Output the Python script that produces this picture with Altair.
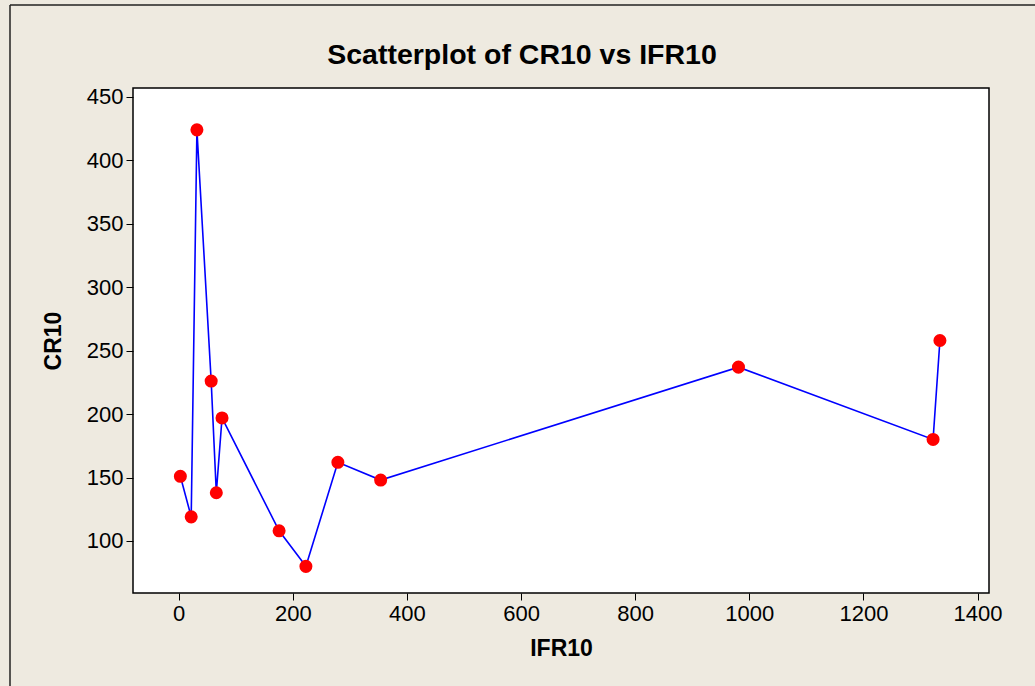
import altair as alt
import pandas as pd

# IFR10 / CR10 observations, in order of increasing IFR10
ifr10 = [3, 22, 32, 57, 66, 76, 176, 223, 279, 354, 981, 1322, 1334]
cr10 = [151, 119, 424, 226, 138, 197, 108, 80, 162, 148, 237, 180, 258]

x_ticks = [0, 200, 400, 600, 800, 1000, 1200, 1400]
y_ticks = [100, 150, 200, 250, 300, 350, 400, 450]

title_text = "Scatterplot of CR10 vs IFR10"

df = pd.DataFrame({"IFR10": ifr10, "CR10": cr10, "order": list(range(len(ifr10)))})

W, H = 856, 505
PAD = {"left": 133, "top": 88, "right": 46, "bottom": 93}
BG = "#EEEAE0"
FONT = "Liberation Sans"

x_enc = alt.X(
    "IFR10:Q",
    scale=alt.Scale(domain=[-80, 1420], nice=False, zero=False),
    axis=alt.Axis(
        values=x_ticks, format="d", title="IFR10", grid=False, domain=False,
        tickSize=7, tickColor="black", labelColor="black",
        labelFont=FONT, labelFontSize=22, labelPadding=3,
        titleFont=FONT, titleFontSize=23, titleFontWeight="bold", titleColor="black",
        titleX=W / 2, titleY=55, titleBaseline="middle",
    ),
)
y_enc = alt.Y(
    "CR10:Q",
    scale=alt.Scale(domain=[59, 457], nice=False, zero=False),
    axis=alt.Axis(
        values=y_ticks, format="d", title="CR10", grid=False, domain=False,
        tickSize=7, tickColor="black", labelColor="black",
        labelFont=FONT, labelFontSize=22, labelPadding=3,
        titleFont=FONT, titleFontSize=23, titleFontWeight="bold", titleColor="black",
        titleX=-80, titleY=H / 2, titleBaseline="middle", titleAlign="center", titleAngle=270,
    ),
)

base = alt.Chart(df)
line = base.mark_line(color="#0000FF", strokeWidth=1.6).encode(x=x_enc, y=y_enc, order="order:Q")
pts = base.mark_circle(color="#FF0000", opacity=1, size=170).encode(x=x_enc, y=y_enc)

# outer frame of the graph window (left and top edges) and the heading
one = alt.Chart(pd.DataFrame({"label": [title_text]}))
frame_left = one.mark_rule(color="#222222", strokeWidth=1.5).encode(
    x=alt.value(-123), y=alt.value(-83), y2=alt.value(H + PAD["bottom"])
)
frame_top = one.mark_rule(color="#222222", strokeWidth=1.5).encode(
    x=alt.value(-123), x2=alt.value(W + PAD["right"]), y=alt.value(-83)
)
heading = one.mark_text(
    font=FONT, fontSize=28.5, fontWeight="bold", color="black",
    align="center", baseline="middle",
).encode(text="label:N", x=alt.value(389), y=alt.value(-33))

chart = (
    alt.layer(line, pts, frame_left, frame_top, heading)
    .properties(
        width=W,
        height=H,
        autosize=alt.AutoSizeParams(type="none"),
        padding=PAD,
        background=BG,
    )
    .configure_view(fill="white", stroke="black", strokeWidth=1.5)
)

chart.save("out.html", embed_options={"renderer": "svg", "actions": False})
